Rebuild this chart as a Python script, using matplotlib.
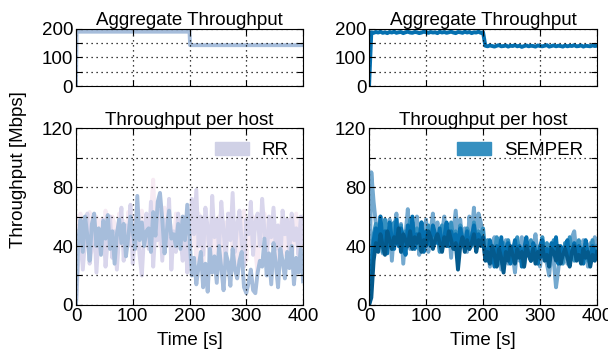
import numpy as np
import matplotlib
matplotlib.use("Agg")
import matplotlib.pyplot as plt
from matplotlib.patches import Patch

FS = 13.5
plt.rcParams['font.family'] = ['Liberation Sans', 'DejaVu Sans']
plt.rcParams['font.size'] = FS

# ---------------- data ----------------
RR_HOST_A = [0, 44, 58, 36, 60, 47, 30, 55, 62, 40, 52, 34, 57, 45, 61, 38, 50, 28, 48, 58,
             42, 55, 33, 46, 60, 50, 38, 74, 44, 56, 40, 50, 52, 36, 63, 47, 70, 76, 58, 35,
             50, 64, 45, 48, 40, 55, 38, 60, 44, 68, 46,
             20, 32, 14, 26, 36, 12, 28, 9, 38, 22, 33, 15, 40, 25, 10, 35, 29, 13, 38, 24,
             18, 30, 36, 12, 8, 15, 24, 10, 8, 22, 30, 26, 45, 20, 35, 14, 42, 28, 12, 38,
             30, 18, 36, 25, 40, 14, 32, 22, 38, 16]
RR_HOST_B = [0, 30, 52, 24, 44, 62, 28, 40, 55, 22, 48, 36, 58, 26, 44, 60, 32, 50, 24, 46,
             66, 30, 54, 40, 68, 28, 46, 56, 34, 20, 48, 62, 38, 70, 26, 52, 44, 64, 30, 58,
             40, 72, 24, 50, 36, 62, 46, 30, 56, 22, 40,
             72, 48, 78, 40, 60, 34, 66, 52, 28, 74, 46, 58, 38, 70, 50, 30, 62, 44, 76, 36,
             54, 64, 42, 26, 58, 48, 70, 34, 56, 62, 40, 72, 50, 30, 60, 46, 66, 38, 54, 28,
             64, 48, 58, 36, 62, 44, 52, 34, 60, 42]
RR_HOST_C = [0, 55, 62, 40, 58, 48, 63, 36, 52, 60, 45, 58, 38, 64, 50, 42, 60, 55, 35, 62,
             48, 57, 40, 63, 52, 46, 60, 38, 56, 64, 44, 58, 50, 62, 85, 48, 60, 40, 56, 66,
             45, 58, 52, 38, 62, 50, 56, 44, 60, 48, 54,
             40, 58, 30, 62, 45, 24, 55, 48, 36, 64, 28, 50, 60, 38, 22, 56, 46, 62, 34, 52,
             26, 58, 44, 64, 30, 50, 40, 60, 36, 22, 54, 46, 62, 30, 56, 42, 64, 38, 26, 52,
             60, 34, 48, 58, 30, 44, 62, 40, 54, 36]

SEMPER_HOST_A = [0, 90, 70, 55, 48, 60, 35, 52, 42, 58, 30, 50, 62, 40, 55, 28, 48, 65, 38, 56,
                 45, 60, 34, 52, 42, 58, 36, 50, 62, 44, 56, 38, 48, 60, 40, 54, 32, 50, 64, 46,
                 58, 42, 52, 36, 60, 48, 66, 40, 62, 56, 44,
                 32, 42, 26, 38, 46, 30, 40, 24, 36, 44, 28, 38, 34, 22, 40, 30, 46, 26, 36, 42,
                 30, 38, 48, 32, 26, 40, 34, 28, 20, 36, 30, 12, 24, 38, 32, 42, 28, 36, 46, 50,
                 34, 40, 30, 44, 38, 26, 42, 36, 46, 40]
SEMPER_HOST_B = [0, 30, 48, 55, 40, 52, 36, 58, 44, 50, 38, 56, 46, 42, 54, 36, 50, 44, 58, 40,
                 48, 52, 38, 56, 46, 42, 54, 40, 50, 44, 48, 36, 54, 46, 52, 40, 56, 44, 50, 38,
                 54, 46, 42, 52, 48, 40, 56, 44, 50, 46, 52,
                 36, 44, 30, 40, 34, 46, 28, 38, 42, 32, 44, 36, 30, 40, 46, 34, 38, 28, 42, 36,
                 44, 32, 40, 30, 38, 46, 34, 42, 30, 36, 44, 32, 40, 38, 28, 42, 34, 46, 36, 30,
                 40, 44, 32, 38, 42, 30, 36, 44, 34, 40]
SEMPER_HOST_C = [0, 20, 44, 52, 38, 60, 42, 50, 35, 56, 45, 38, 58, 40, 52, 46, 34, 54, 42, 60,
                 38, 48, 44, 56, 36, 50, 46, 40, 54, 48, 42, 52, 38, 46, 56, 40, 50, 44, 48, 36,
                 52, 44, 40, 50, 38, 46, 54, 42, 48, 44, 40,
                 38, 30, 44, 36, 26, 40, 34, 46, 30, 38, 42, 28, 36, 44, 32, 40, 26, 38, 46, 34,
                 30, 42, 36, 28, 40, 44, 32, 38, 30, 42, 36, 46, 28, 40, 34, 38, 44, 30, 36, 42,
                 32, 40, 38, 28, 44, 34, 30, 40, 36, 32]
SEMPER_HOST_D = [0, 5, 30, 42, 36, 48, 40, 34, 50, 44, 38, 46, 42, 52, 36, 48, 44, 40, 50, 38,
                 46, 42, 48, 36, 44, 40, 50, 46, 38, 44, 48, 42, 36, 46, 40, 50, 44, 38, 42, 24,
                 40, 46, 36, 44, 38, 42, 48, 36, 44, 40, 46,
                 30, 36, 28, 40, 34, 26, 38, 32, 22, 36, 30, 40, 34, 28, 38, 32, 36, 26, 40, 34,
                 30, 38, 28, 36, 32, 40, 30, 34, 26, 38, 36, 30, 40, 28, 34, 38, 32, 26, 36, 40,
                 30, 34, 28, 38, 32, 36, 26, 34, 30, 36]

AGG_RR_TIME = [0, 1, 200, 201, 400]
AGG_RR = [0, 190, 190, 143, 143]

AGG_SEMPER = [0, 188, 186, 189, 187, 190, 186, 188, 185, 189, 187, 190, 186, 188, 189, 185,
              188, 190, 187, 186, 189, 188, 185, 187, 190, 188, 186, 189, 187, 188, 185, 190,
              187, 189, 186, 188, 190, 187, 185, 189, 188, 186, 190, 187, 189, 185, 188, 187,
              190, 186, 188,
              141, 139, 142, 140, 138, 141, 143, 139, 140, 142, 138, 141, 140, 143, 139, 141,
              137, 140, 142, 139, 141, 140, 138, 142, 140, 139, 141, 143, 138, 140, 142, 139,
              141, 140, 138, 142, 139, 141, 140, 143, 139, 140, 142, 138, 141, 140, 139, 142,
              140, 141]

RR_COLORS = ['#f6eaf3', '#d9d6ec', '#a6bddb']
SEMPER_COLORS = ['#74a9cf', '#3690c0', '#0570b0', '#045a8d']

X_TICKS = [0, 100, 200, 300, 400]
HOST_Y_TICKS = [0, 20, 40, 60, 80, 100, 120]
HOST_Y_LABELS = ['0', '', '40', '', '80', '', '120']
AGG_Y_TICKS = [0, 50, 100, 150, 200]
AGG_Y_LABELS = ['0', '', '100', '', '200']


def tvec(v):
    return np.linspace(0, 400, len(v))


fig = plt.figure(figsize=(6.08, 3.56), dpi=100)

ax_tl = fig.add_axes([0.125, 0.758, 0.3734, 0.161])
ax_bl = fig.add_axes([0.125, 0.1433, 0.3734, 0.497])
ax_tr = fig.add_axes([0.607, 0.758, 0.375, 0.161])
ax_br = fig.add_axes([0.607, 0.1433, 0.375, 0.497])


def style(ax, yticks, ylabels, ylim, show_x):
    ax.set_xlim(0, 400)
    ax.set_ylim(*ylim)
    ax.set_xticks(X_TICKS)
    ax.set_yticks(yticks)
    ax.set_yticklabels(ylabels)
    if not show_x:
        ax.set_xticklabels([])
    ax.tick_params(direction='in', top=True, right=True, length=4, width=0.8,
                   labelsize=FS, pad=2)
    ax.grid(True, linestyle=(0, (1, 3)), color='black', linewidth=0.9)
    ax.set_axisbelow(False)
    for s in ax.spines.values():
        s.set_linewidth(0.8)


# aggregate
ax_tl.plot(AGG_RR_TIME, AGG_RR, color='#a6bddb', lw=2.8)
ax_tr.plot(tvec(AGG_SEMPER), AGG_SEMPER, color='#0570b0', lw=2.8)
for ax in (ax_tl, ax_tr):
    style(ax, AGG_Y_TICKS, AGG_Y_LABELS, (0, 200), False)
    ax.set_title('Aggregate Throughput', fontsize=FS, pad=1)

# per host
for series, c in zip([RR_HOST_C, RR_HOST_B, RR_HOST_A], RR_COLORS):
    ax_bl.plot(tvec(series), series, color=c, lw=2.8)
for series, c in zip([SEMPER_HOST_A, SEMPER_HOST_B, SEMPER_HOST_C, SEMPER_HOST_D], SEMPER_COLORS):
    ax_br.plot(tvec(series), series, color=c, lw=2.8)

for ax in (ax_bl, ax_br):
    style(ax, HOST_Y_TICKS, HOST_Y_LABELS, (0, 120), True)
    ax.set_title('Throughput per host', fontsize=FS, pad=2)
    ax.set_xlabel('Time [s]', fontsize=FS, labelpad=5)

ax_bl.legend(handles=[Patch(color='#d0d1e6', label='RR')], loc='upper right',
             frameon=False, fontsize=FS, handlelength=1.8, handleheight=0.65,
             borderaxespad=0.35, handletextpad=0.7)
ax_br.legend(handles=[Patch(color='#3690c0', label='SEMPER')], loc='upper right',
             frameon=False, fontsize=FS, handlelength=1.8, handleheight=0.65,
             borderaxespad=0.35, handletextpad=0.7)

fig.text(0.03, 0.525, 'Throughput [Mbps]', rotation=90, va='center', ha='center',
         fontsize=FS)

fig.savefig('out.png', dpi=100)
